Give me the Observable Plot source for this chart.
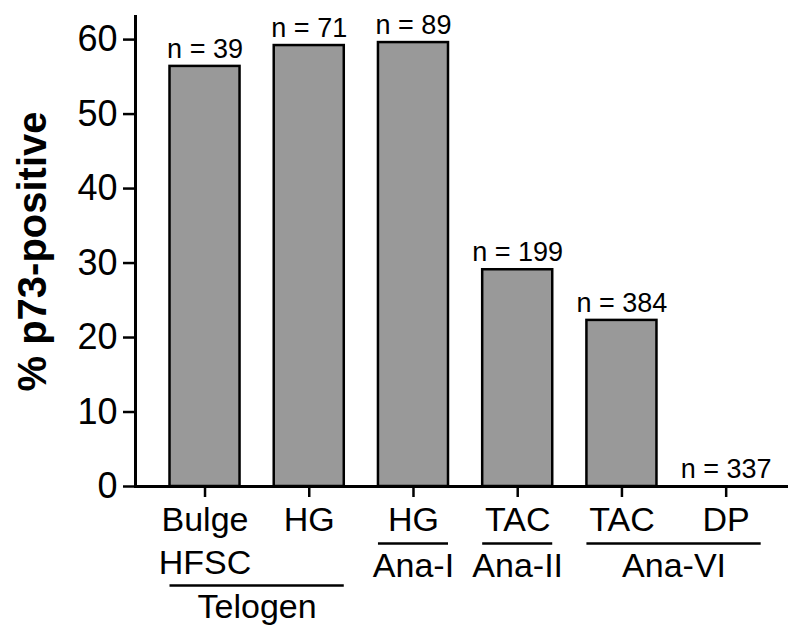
<!DOCTYPE html>
<html>
<head>
<meta charset="utf-8">
<script src="https://cdn.jsdelivr.net/npm/d3@7"></script>
<script src="https://cdn.jsdelivr.net/npm/@observablehq/plot@0.6"></script>
<style>
  html, body { margin: 0; padding: 0; background: #fff; }
  #chart svg { display: block; }
</style>
</head>
<body>
<div id="chart"></div>
<script>
const tickLabels = ["Bulge\nHFSC", "HG", "HG", "TAC", "TAC", "DP"];
const values = [56.4, 59.2, 59.6, 29.1, 22.3, 0];
const nLabels = ["n = 39", "n = 71", "n = 89", "n = 199", "n = 384", "n = 337"];
const groupLabels = ["Telogen", "Ana-I", "Ana-II", "Ana-VI"];
const groupFrom = [0, 2, 3, 4];
const groupTo = [1, 2, 3, 5];
const groupRow = [2, 1, 1, 1];
const yTicks = [0, 10, 20, 30, 40, 50, 60];
const yLabel = "% p73-positive";

const idx = values.map((_, i) => i);
const groups = groupLabels.map((label, i) => ({label, from: groupFrom[i], to: groupTo[i], row: groupRow[i]}));
const row1 = groups.filter(g => g.row === 1);
const row2 = groups.filter(g => g.row === 2);
const hw = 0.336;
const font = "'Liberation Sans', Arial, Helvetica, sans-serif";

const groupMarks = (data, lineDy, textDy) => [
  Plot.ruleY(data, {x1: g => g.from - hw, x2: g => g.to + hw, y: 0, dy: lineDy,
                    strokeWidth: 2.5, stroke: "black"}),
  Plot.text(data, {x: g => (g.from + g.to) / 2, y: 0, text: "label", lineAnchor: "top",
                   fontSize: 34, dy: textDy})
];

const chart = Plot.plot({
  width: 788,
  height: 627,
  marginLeft: 135,
  marginRight: 0,
  marginTop: 16,
  marginBottom: 141,
  x: {domain: [-0.667, 5.598]},
  y: {domain: [0, 63.1]},
  style: {fontFamily: font, color: "black", background: "white"},
  marks: [
    Plot.rectY(idx, {
      x1: i => i - hw, x2: i => i + hw, y1: 0, y2: i => values[i],
      fill: "#999999", stroke: "black", strokeWidth: 2.5
    }),
    Plot.ruleY([0], {stroke: "black", strokeWidth: 3}),
    Plot.frame({anchor: "left", stroke: "black", strokeWidth: 3}),
    Plot.axisY({ticks: yTicks, tickSize: 12, tickPadding: 6, fontSize: 36, strokeWidth: 2.5, label: null}),
    Plot.axisX({ticks: idx, tickFormat: i => tickLabels[i], tickSize: 11, tickPadding: 2,
                fontSize: 34, lineHeight: 1.285, strokeWidth: 2.5, label: null}),
    Plot.text(idx, {x: i => i, y: i => values[i], text: i => nLabels[i], dy: -17, fontSize: 27}),
    ...groupMarks(row1, 57, 66),
    ...groupMarks(row2, 99, 107),
    Plot.text([yLabel], {frameAnchor: "left", text: d => d, rotate: -90, dx: -102,
                         textAnchor: "middle", fontSize: 40, fontWeight: "bold"})
  ]
});
document.getElementById("chart").appendChild(chart);
</script>
</body>
</html>
